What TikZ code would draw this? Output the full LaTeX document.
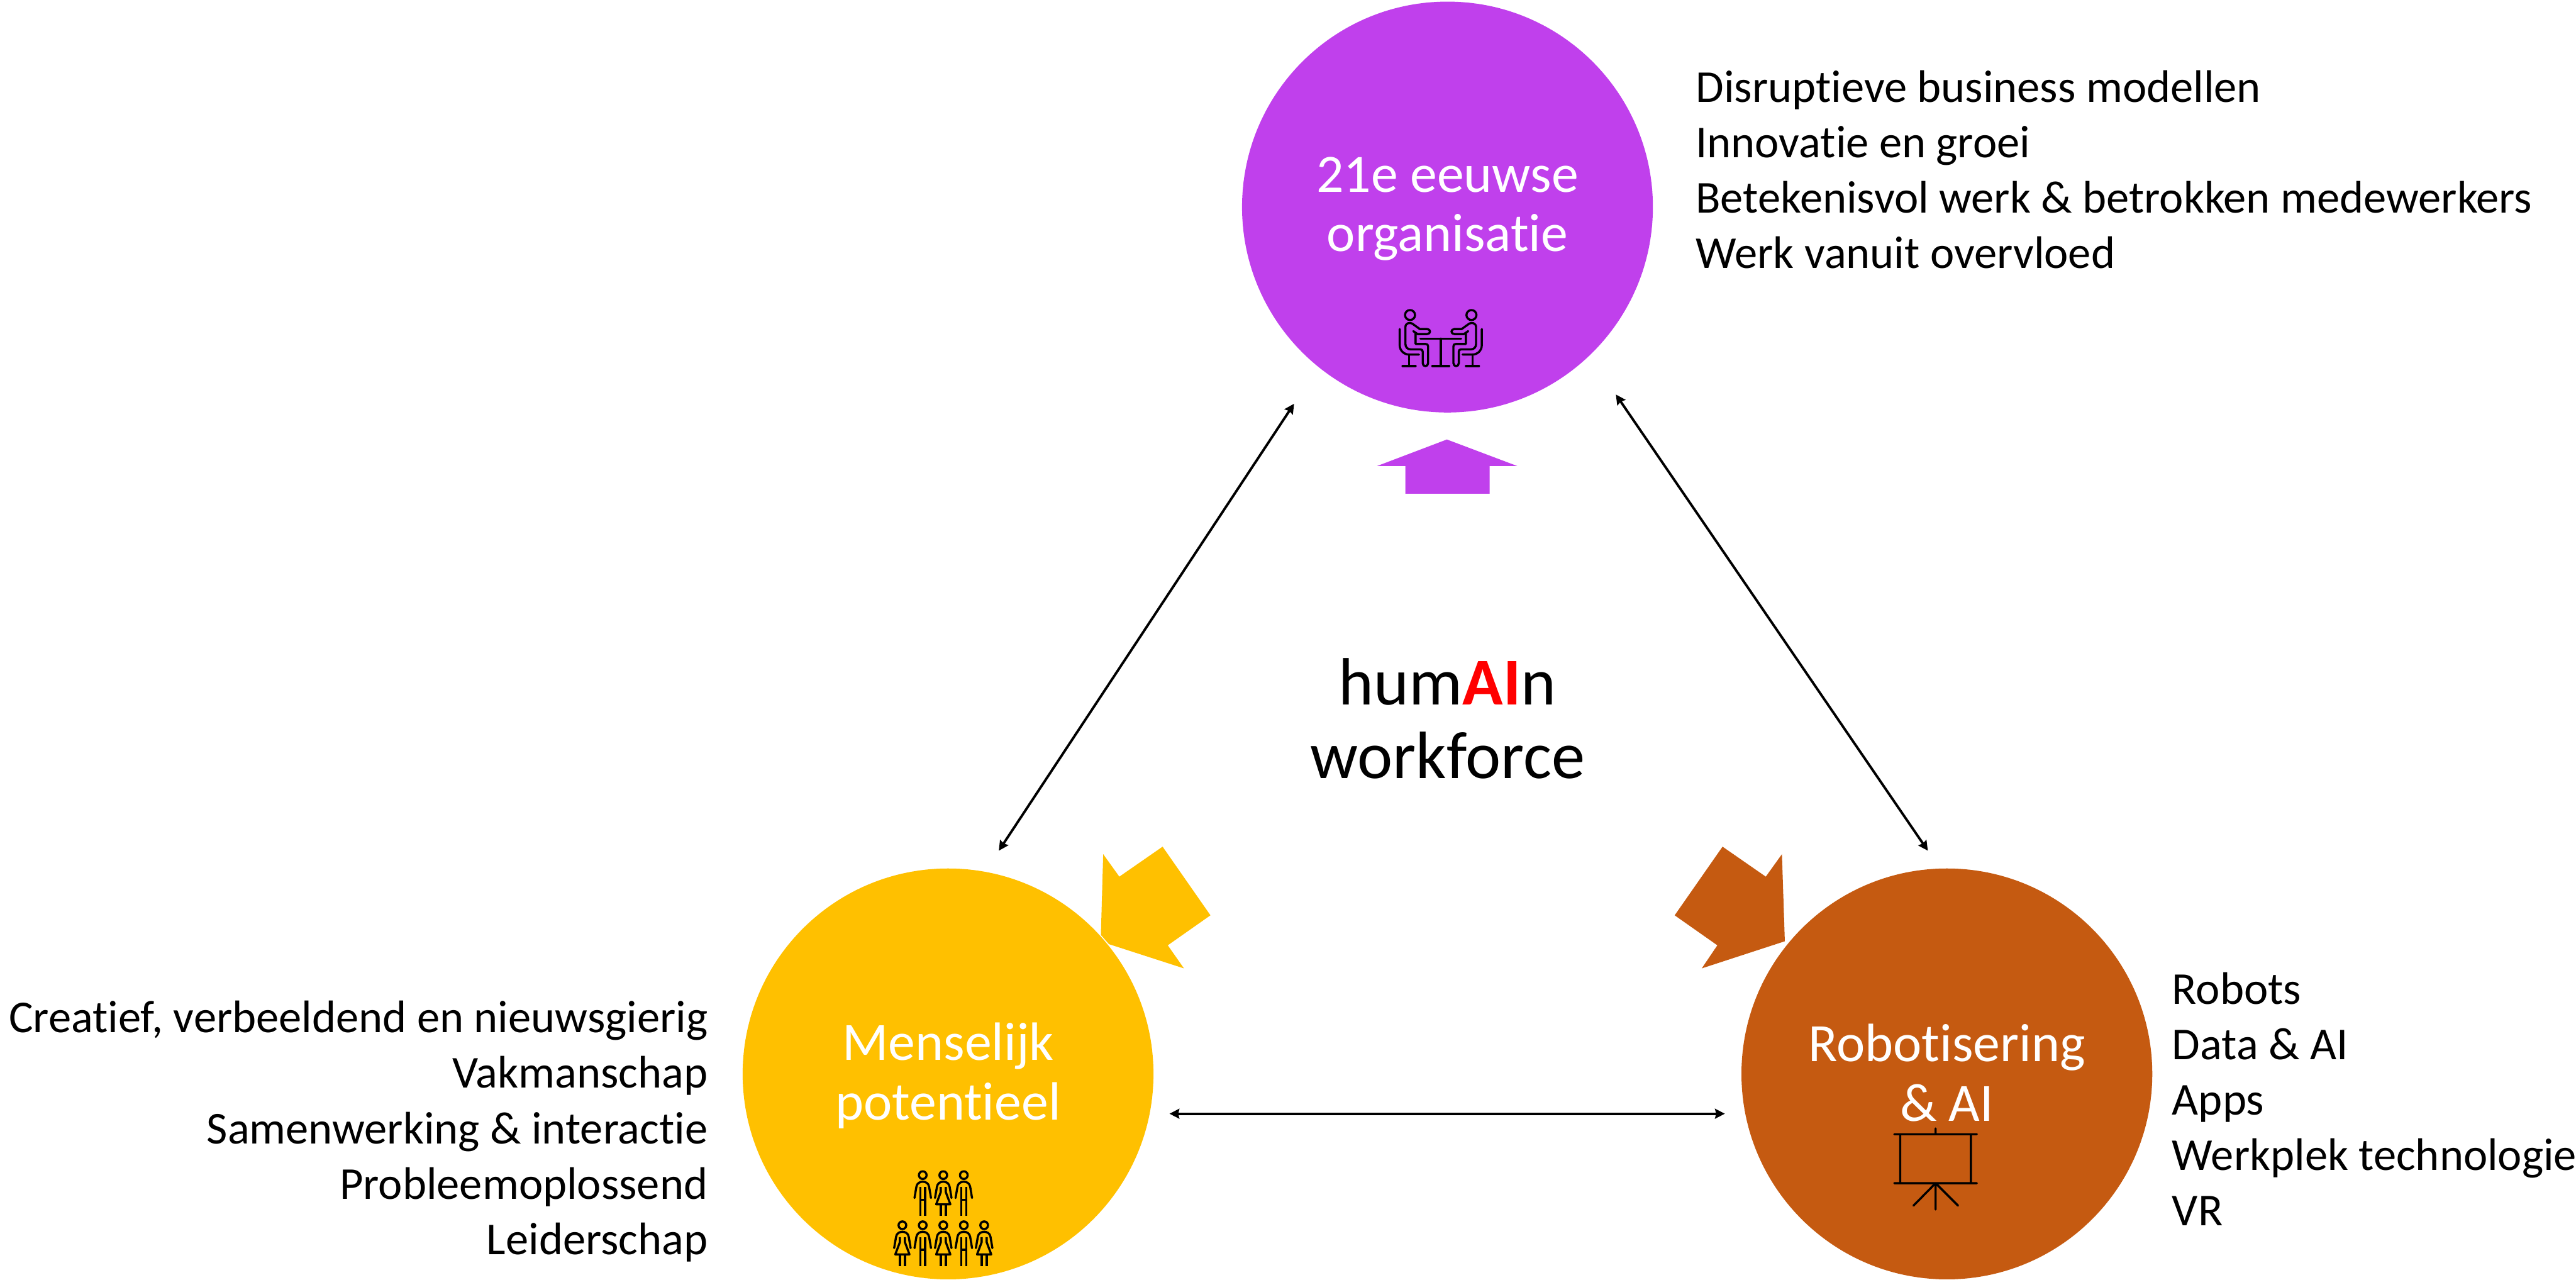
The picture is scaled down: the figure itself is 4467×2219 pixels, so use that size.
\documentclass[tikz,border=0pt]{standalone}
\usepackage{fontspec}
\setmainfont[RawFeature={-liga;-clig;-dlig}]{Carlito}
\usetikzlibrary{arrows.meta}
\definecolor{purp}{HTML}{C040EC}
\definecolor{yel}{HTML}{FFC000}
\definecolor{brn}{HTML}{C55A11}
\tikzset{
  disc/.style={circle,draw=none,minimum size=7.12cm,inner sep=0pt},
  link/.style={black,line width=1.2pt,{Stealth[length=0.17cm,width=0.17cm,inset=0.02cm]}-{Stealth[length=0.17cm,width=0.17cm,inset=0.02cm]}},
  listtext/.style={inner sep=0pt,font=\fontsize{22.5pt}{27.3pt}\selectfont},
  disctext/.style={inner sep=0pt,align=center,text=white,font=\fontsize{26.6pt}{29.3pt}\selectfont},
  centertext/.style={inner sep=0pt,align=center,font=\fontsize{33pt}{36.3pt}\selectfont},
  icon/.style={black,line width=1.05pt,line cap=round,line join=round}
}
% zoom-1 units, seated person, mirror axis at x=596
\newcommand{\seatperson}{%
  \draw[icon] (436,199) circle (26);
  \draw[icon] (453,283) -- (475,298) -- (525,298) .. controls (545,298) and (545,272) .. (525,272) -- (487,272) -- (448,244) .. controls (436,236) and (412,240) .. (412,262) -- (412,350) .. controls (412,368) and (424,378) .. (440,378) -- (490,378) .. controls (498,378) and (502,382) .. (502,390) -- (502,450) .. controls (502,470) and (530,470) .. (530,450) -- (530,362) .. controls (530,354) and (526,350) .. (518,350) -- (465,350) -- (465,292);
  \draw[icon] (382,272) -- (382,355) .. controls (382,385) and (405,405) .. (432,405) -- (482,405);
  \draw[icon] (431,405) -- (431,465) (397,465) -- (465,465);
}
% zoom-2 units, centred on x=0, head at y=0
\newcommand{\fig}[2]{\begin{scope}[shift={(#1,#2)}]
  \draw[icon] (0,0) circle (20);
  \draw[icon] (-43,119) -- (-33,60) .. controls (-30,42) and (-15,34) .. (0,34) .. controls (15,34) and (30,42) .. (33,60) -- (43,119);
\end{scope}}
\newcommand{\man}[2]{\fig{#1}{#2}\begin{scope}[shift={(#1,#2)}]
  \draw[icon,line cap=butt] (-13,62) -- (-13,212) (13,62) -- (13,212) (-13,128) -- (13,128);
\end{scope}}
\newcommand{\woman}[2]{\fig{#1}{#2}\begin{scope}[shift={(#1,#2)}]
  \draw[icon,line cap=butt] (-13,62) -- (-13,88) -- (-37,152) -- (37,152) -- (13,88) -- (13,62);
  \draw[icon,line cap=butt] (-13,152) -- (-13,212) (13,152) -- (13,212);
\end{scope}}
\begin{document}
\begin{tikzpicture}[x=0.01cm,y=-0.01cm]
\useasboundingbox (0,0) rectangle (4467,2219);
% discs
\node[disc,fill=purp] (top) at (2510,359) {};
\node[disc,fill=yel] (left) at (1644,1862) {};
\node[disc,fill=brn] (right) at (3376,1862) {};
% block arrows
\fill[purp] (2509,762) -- (2631,808) -- (2583,808) -- (2583,856) -- (2437,856) -- (2437,808) -- (2388,808) -- cycle;
\fill[yel] (1913,1481) -- (1941,1520) -- (2016,1468) -- (2099,1587) -- (2025,1639) -- (2053,1679) -- (1923,1637) -- (1909,1621) -- cycle;
\fill[brn] (2987,1468) -- (3062,1520) -- (3090,1481) -- (3095,1632) -- (2951,1679) -- (2978,1639) -- (2904,1587) -- cycle;
% connectors
\coordinate (a1) at (2244,700); \coordinate (a2) at (1732,1475);
\coordinate (b1) at (2802,684); \coordinate (b2) at (3343,1475);
\coordinate (c1) at (2028,1931); \coordinate (c2) at (2991,1931);
\draw[link] (a1) -- (a2);
\draw[link] (b1) -- (b2);
\draw[link] (c1) -- (c2);
% disc texts
\node[disctext] (toptext) at (2510,362) {21e eeuwse\\organisatie};
\node[disctext] (lefttext) at (1644,1865) {Menselijk\\potentieel};
\node[disctext] (righttext) at (3376,1860) {Robotisering\\\& AI};
\node[centertext] (centre) at (2510,1246) {hum{\bfseries\color{red}AI}n\\workforce};
% lists
\node[listtext,align=left,anchor=north west] (toplist) at (2940,122) {Disruptieve business modellen\\Innovatie en groei\\Betekenisvol werk \& betrokken medewerkers\\Werk vanuit overvloed};
\node[listtext,align=right,anchor=north east] (leftlist) at (1228,1735) {Creatief, verbeeldend en nieuwsgierig\\Vakmanschap\\Samenwerking \& interactie\\Probleemoplossend\\Leiderschap};
\node[listtext,align=left,anchor=north west] (rightlist) at (3766,1685) {Robots\\Data \& AI\\Apps\\Werkplek technologie\\VR};
% icon: two people at a table
\begin{scope}[shift={(2300,480)},x=0.003333cm,y=-0.003333cm]
  \seatperson
  \begin{scope}[shift={(1192,0)},xscale=-1]\seatperson\end{scope}
  \draw[icon] (490,322) -- (702,322) (596,322) -- (596,465) (552,465) -- (640,465);
\end{scope}
% icon: group of people
\begin{scope}[shift={(1450,1950)},x=0.003333cm,y=-0.003333cm]
  \man{451}{263}\woman{558}{263}\man{665}{263}
  \woman{345}{524}\man{451}{524}\woman{558}{524}\man{665}{524}\woman{771}{524}
\end{scope}
% icon: projection screen
\begin{scope}[shift={(3200,1900)},x=0.003333cm,y=-0.003333cm]
  \draw[icon] (470,170) -- (470,200) (255,200) -- (685,200) (255,455) -- (685,455) (286,200) -- (286,455) (654,200) -- (654,455) (470,455) -- (470,592) (470,455) -- (355,572) (470,455) -- (587,572);
\end{scope}
\end{tikzpicture}
\end{document}
